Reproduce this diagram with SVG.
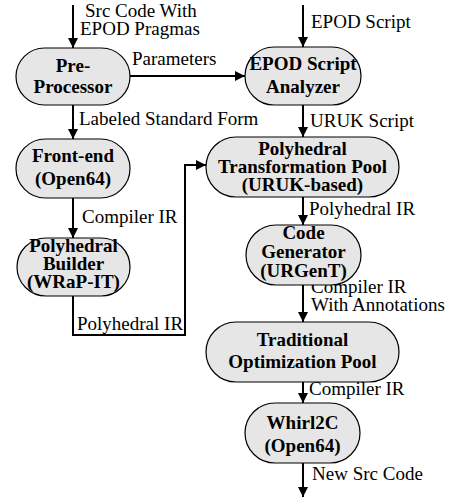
<svg xmlns="http://www.w3.org/2000/svg" width="454" height="502" viewBox="0 0 454 502">
<style>
.box{fill:#e6e6e6;stroke:#000;stroke-width:1.2}
.nt{font-family:'Liberation Serif','Times New Roman',Times,'DejaVu Serif',serif;font-weight:bold;font-size:19px;text-anchor:middle;fill:#000}
.lb{font-family:'Liberation Serif','Times New Roman',Times,'DejaVu Serif',serif;font-size:19px;fill:#000}
.ln{fill:none;stroke:#000;stroke-width:2}
</style>
<defs>
<marker id="ah" viewBox="0 0 10 10" refX="10" refY="5" markerWidth="5" markerHeight="5" orient="auto" markerUnits="strokeWidth">
<path d="M0,0 L10,5 L0,10 z" fill="#000"/>
</marker>
</defs>
<rect width="454" height="502" fill="#fff"/>
<g id="connectors">
<line class="ln" x1="73" y1="5" x2="73" y2="48" marker-end="url(#ah)"/>
<line class="ln" x1="73" y1="105" x2="73" y2="139" marker-end="url(#ah)"/>
<line class="ln" x1="73" y1="198" x2="73" y2="238" marker-end="url(#ah)"/>
<polyline class="ln" points="73,296 73,335 185,335 185,165 206,165" marker-end="url(#ah)"/>
<line class="ln" x1="130" y1="76" x2="245" y2="76" marker-end="url(#ah)"/>
<line class="ln" x1="303" y1="5" x2="303" y2="47" marker-end="url(#ah)"/>
<line class="ln" x1="303" y1="105" x2="303" y2="137" marker-end="url(#ah)"/>
<line class="ln" x1="303" y1="197" x2="303" y2="225" marker-end="url(#ah)"/>
<line class="ln" x1="303" y1="285" x2="303" y2="322" marker-end="url(#ah)"/>
<line class="ln" x1="303" y1="382" x2="303" y2="403" marker-end="url(#ah)"/>
<line class="ln" x1="303" y1="463" x2="303" y2="497" marker-end="url(#ah)"/>
<text class="lb" x="85" y="17">Src Code With</text>
<text class="lb" x="80" y="35">EPOD Pragmas</text>
<text class="lb" x="311" y="28">EPOD Script</text>
<text class="lb" x="132" y="65">Parameters</text>
<text class="lb" x="79" y="125">Labeled Standard Form</text>
<text class="lb" x="310" y="127">URUK Script</text>
<text class="lb" x="82" y="223">Compiler IR</text>
<text class="lb" x="77" y="330">Polyhedral IR</text>
<text class="lb" x="309" y="215">Polyhedral IR</text>
<text class="lb" x="311" y="293">Compiler IR</text>
<text class="lb" x="311" y="311">With Annotations</text>
<text class="lb" x="309" y="395">Compiler IR</text>
<text class="lb" x="312" y="480">New Src Code</text>
</g>
<g id="preprocessor">
<rect class="box" x="16" y="48" width="114" height="57" rx="28.5"/>
<text class="nt" x="73" y="72">Pre-</text>
<text class="nt" x="73" y="93">Processor</text>
</g>
<g id="epod-analyzer">
<rect class="box" x="245" y="47" width="116" height="58" rx="29"/>
<text class="nt" x="303" y="70">EPOD Script</text>
<text class="nt" x="303" y="93">Analyzer</text>
</g>
<g id="frontend">
<rect class="box" x="16" y="139" width="114" height="59" rx="29.5"/>
<text class="nt" x="73" y="162">Front-end</text>
<text class="nt" x="73" y="185">(Open64)</text>
</g>
<g id="transformation-pool">
<rect class="box" x="206" y="137" width="193" height="60" rx="30"/>
<text class="nt" x="302.5" y="155">Polyhedral</text>
<text class="nt" x="302.5" y="173">Transformation Pool</text>
<text class="nt" x="302.5" y="191">(URUK-based)</text>
</g>
<g id="polyhedral-builder">
<rect class="box" x="17" y="238" width="113" height="58" rx="29"/>
<text class="nt" x="73.5" y="252">Polyhedral</text>
<text class="nt" x="73.5" y="270">Builder</text>
<text class="nt" x="73.5" y="288">(WRaP-IT)</text>
</g>
<g id="code-generator">
<rect class="box" x="246" y="225" width="115" height="60" rx="30"/>
<text class="nt" x="303.5" y="239">Code</text>
<text class="nt" x="303.5" y="258">Generator</text>
<text class="nt" x="303.5" y="277">(URGenT)</text>
</g>
<g id="traditional-pool">
<rect class="box" x="206" y="322" width="193" height="60" rx="30"/>
<text class="nt" x="302.5" y="346">Traditional</text>
<text class="nt" x="302.5" y="368">Optimization Pool</text>
</g>
<g id="whirl2c">
<rect class="box" x="245" y="403" width="115" height="60" rx="30"/>
<text class="nt" x="302.5" y="429">Whirl2C</text>
<text class="nt" x="302.5" y="452">(Open64)</text>
</g>
</svg>
